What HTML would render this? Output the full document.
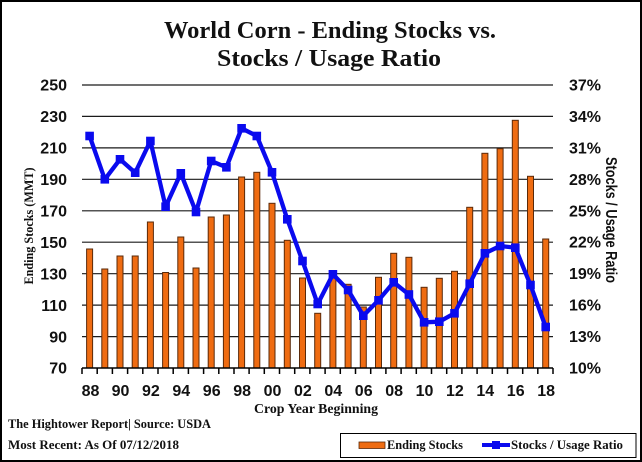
<!DOCTYPE html>
<html><head><meta charset="utf-8"><style>
html,body{margin:0;padding:0;background:#fff;}
svg{display:block;}
.ax{font-family:"Liberation Sans",sans-serif;font-weight:bold;font-size:16px;fill:#111;}
.sr{font-family:"Liberation Serif",serif;font-weight:bold;fill:#111;}
</style></head><body>
<svg width="642" height="462" viewBox="0 0 642 462" xmlns="http://www.w3.org/2000/svg">
<rect x="1" y="1" width="640" height="460" fill="#fff" stroke="#000" stroke-width="2"/>
<text class="sr" x="330" y="38" font-size="24" text-anchor="middle" textLength="332" lengthAdjust="spacingAndGlyphs">World Corn - Ending Stocks vs.</text>
<text class="sr" x="329" y="66" font-size="24" text-anchor="middle" textLength="224" lengthAdjust="spacingAndGlyphs">Stocks / Usage Ratio</text>
<g stroke="#1a1a1a" stroke-width="1.2">
<line x1="82" y1="85" x2="553" y2="85"/>
<line x1="82" y1="116.4" x2="553" y2="116.4"/>
<line x1="82" y1="147.9" x2="553" y2="147.9"/>
<line x1="82" y1="179.3" x2="553" y2="179.3"/>
<line x1="82" y1="210.8" x2="553" y2="210.8"/>
<line x1="82" y1="242.2" x2="553" y2="242.2"/>
<line x1="82" y1="273.7" x2="553" y2="273.7"/>
<line x1="82" y1="305.1" x2="553" y2="305.1"/>
<line x1="82" y1="336.6" x2="553" y2="336.6"/>
</g>
<g class="ax" text-anchor="end">
<text x="67" y="90.7">250</text><text x="67" y="122.1">230</text><text x="67" y="153.6">210</text>
<text x="67" y="185">190</text><text x="67" y="216.5">170</text><text x="67" y="247.9">150</text>
<text x="67" y="279.4">130</text><text x="67" y="310.8">110</text><text x="67" y="342.3">90</text>
<text x="67" y="373.7">70</text>
</g>
<g class="ax" font-size="15.5">
<text x="569" y="90.5">37%</text><text x="569" y="121.9">34%</text><text x="569" y="153.4">31%</text>
<text x="569" y="184.8">28%</text><text x="569" y="216.3">25%</text><text x="569" y="247.7">22%</text>
<text x="569" y="279.2">19%</text><text x="569" y="310.6">16%</text><text x="569" y="342.1">13%</text>
<text x="569" y="373.5">10%</text>
</g>
<g fill="#EF6C12" stroke="#5a2a0a" stroke-width="1">
<rect x="86.6" y="249" width="6" height="119"/>
<rect x="101.8" y="269" width="6" height="99"/>
<rect x="117" y="256" width="6" height="112"/>
<rect x="132.2" y="256" width="6" height="112"/>
<rect x="147.4" y="222" width="6" height="146"/>
<rect x="162.6" y="272.5" width="6" height="95.5"/>
<rect x="177.8" y="237" width="6" height="131"/>
<rect x="193" y="268" width="6" height="100"/>
<rect x="208.2" y="217" width="6" height="151"/>
<rect x="223.4" y="215" width="6" height="153"/>
<rect x="238.6" y="177" width="6" height="191"/>
<rect x="253.8" y="172.3" width="6" height="195.7"/>
<rect x="269" y="203.3" width="6" height="164.7"/>
<rect x="284.3" y="240.3" width="6" height="127.7"/>
<rect x="299.5" y="278" width="6" height="90"/>
<rect x="314.7" y="313.3" width="6" height="54.7"/>
<rect x="329.9" y="277" width="6" height="91"/>
<rect x="345.1" y="284.3" width="6" height="83.7"/>
<rect x="360.3" y="307" width="6" height="61"/>
<rect x="375.5" y="277.3" width="6" height="90.7"/>
<rect x="390.7" y="253.3" width="6" height="114.7"/>
<rect x="405.9" y="257.3" width="6" height="110.7"/>
<rect x="421.1" y="287.3" width="6" height="80.7"/>
<rect x="436.3" y="278.3" width="6" height="89.7"/>
<rect x="451.5" y="271.3" width="6" height="96.7"/>
<rect x="466.7" y="207.3" width="6" height="160.7"/>
<rect x="481.9" y="153.3" width="6" height="214.7"/>
<rect x="497.1" y="148.7" width="6" height="219.3"/>
<rect x="512.3" y="120.3" width="6" height="247.7"/>
<rect x="527.5" y="176.3" width="6" height="191.7"/>
<rect x="542.7" y="239" width="6" height="129"/>
</g>
<g stroke="#000" stroke-width="1.5">
<line x1="82" y1="368" x2="553" y2="368"/>
<path d="M82 368v6M97.2 368v6M112.4 368v6M127.6 368v6M142.8 368v6M158 368v6M173.2 368v6M188.4 368v6M203.6 368v6M218.8 368v6M234 368v6M249.1 368v6M264.3 368v6M279.5 368v6M294.7 368v6M309.9 368v6M325.1 368v6M340.3 368v6M355.5 368v6M370.7 368v6M385.9 368v6M401.1 368v6M416.3 368v6M431.5 368v6M446.7 368v6M461.9 368v6M477.1 368v6M492.3 368v6M507.5 368v6M522.7 368v6M537.8 368v6M553 368v6"/>
</g>
<polyline fill="none" stroke="#0A0AEE" stroke-width="4.3" stroke-linejoin="round" points="89.6,136 104.8,179.3 120,159.3 135.2,172.7 150.4,141 165.6,206.7 180.8,173.3 196,212 211.2,161 226.4,167.3 241.6,128.3 256.8,136 272,172.3 287.3,219.3 302.5,261 317.7,304 332.9,274.3 348.1,290 363.3,315.7 378.5,300.3 393.7,282.3 408.9,294.5 424.1,322.3 439.3,321.7 454.5,313.3 469.7,283.7 484.9,253.3 500.1,246 515.3,247.7 530.5,285 545.7,327"/>
<g fill="#0A0AEE">
<rect x="85.3" y="131.7" width="8.6" height="8.6"/><rect x="100.5" y="175" width="8.6" height="8.6"/>
<rect x="115.7" y="155" width="8.6" height="8.6"/><rect x="130.9" y="168.4" width="8.6" height="8.6"/>
<rect x="146.1" y="136.7" width="8.6" height="8.6"/><rect x="161.3" y="202.4" width="8.6" height="8.6"/>
<rect x="176.5" y="169" width="8.6" height="8.6"/><rect x="191.7" y="207.7" width="8.6" height="8.6"/>
<rect x="206.9" y="156.7" width="8.6" height="8.6"/><rect x="222.1" y="163" width="8.6" height="8.6"/>
<rect x="237.3" y="124" width="8.6" height="8.6"/><rect x="252.5" y="131.7" width="8.6" height="8.6"/>
<rect x="267.7" y="168" width="8.6" height="8.6"/><rect x="283" y="215" width="8.6" height="8.6"/>
<rect x="298.2" y="256.7" width="8.6" height="8.6"/><rect x="313.4" y="299.7" width="8.6" height="8.6"/>
<rect x="328.6" y="270" width="8.6" height="8.6"/><rect x="343.8" y="285.7" width="8.6" height="8.6"/>
<rect x="359" y="311.4" width="8.6" height="8.6"/><rect x="374.2" y="296" width="8.6" height="8.6"/>
<rect x="389.4" y="278" width="8.6" height="8.6"/><rect x="404.6" y="290.2" width="8.6" height="8.6"/>
<rect x="419.8" y="318" width="8.6" height="8.6"/><rect x="435" y="317.4" width="8.6" height="8.6"/>
<rect x="450.2" y="309" width="8.6" height="8.6"/><rect x="465.4" y="279.4" width="8.6" height="8.6"/>
<rect x="480.6" y="249" width="8.6" height="8.6"/><rect x="495.8" y="241.7" width="8.6" height="8.6"/>
<rect x="511" y="243.4" width="8.6" height="8.6"/><rect x="526.2" y="280.7" width="8.6" height="8.6"/>
<rect x="541.4" y="322.7" width="8.6" height="8.6"/>
</g>
<g class="ax" text-anchor="middle">
<text x="90.5" y="396">88</text><text x="120.5" y="396">90</text><text x="150.9" y="396">92</text>
<text x="181.3" y="396">94</text><text x="211.7" y="396">96</text><text x="242.1" y="396">98</text>
<text x="272.5" y="396">00</text><text x="302.9" y="396">02</text><text x="333.3" y="396">04</text>
<text x="363.7" y="396">06</text><text x="394.1" y="396">08</text><text x="424.5" y="396">10</text>
<text x="454.9" y="396">12</text><text x="485.3" y="396">14</text><text x="515.7" y="396">16</text>
<text x="546.1" y="396">18</text>
</g>
<text class="sr" x="316" y="413" font-size="14" text-anchor="middle" textLength="124" lengthAdjust="spacingAndGlyphs">Crop Year Beginning</text>
<text class="sr" transform="translate(33,226) rotate(-90)" font-size="13" text-anchor="middle" textLength="117" lengthAdjust="spacingAndGlyphs">Ending Stocks (MMT)</text>
<text class="ax" transform="translate(606,220) rotate(90)" font-size="13" text-anchor="middle" textLength="126" lengthAdjust="spacingAndGlyphs">Stocks / Usage Ratio</text>
<text class="sr" x="8" y="428" font-size="13" textLength="203" lengthAdjust="spacingAndGlyphs">The Hightower Report| Source: USDA</text>
<text class="sr" x="8" y="449" font-size="13" textLength="171" lengthAdjust="spacingAndGlyphs">Most Recent: As Of 07/12/2018</text>
<rect x="340.5" y="433.5" width="295.5" height="24" fill="#fff" stroke="#000" stroke-width="1"/>
<rect x="359" y="442" width="26" height="6.5" fill="#EF6C12" stroke="#5a2a0a" stroke-width="0.8"/>
<text class="sr" x="387" y="449" font-size="13" textLength="76" lengthAdjust="spacingAndGlyphs">Ending Stocks</text>
<line x1="482" y1="445" x2="510" y2="445" stroke="#0A0AEE" stroke-width="4"/>
<rect x="492" y="441" width="8" height="8" fill="#0A0AEE"/>
<text class="sr" x="511" y="449" font-size="13" textLength="112" lengthAdjust="spacingAndGlyphs">Stocks / Usage Ratio</text>
</svg>
</body></html>
